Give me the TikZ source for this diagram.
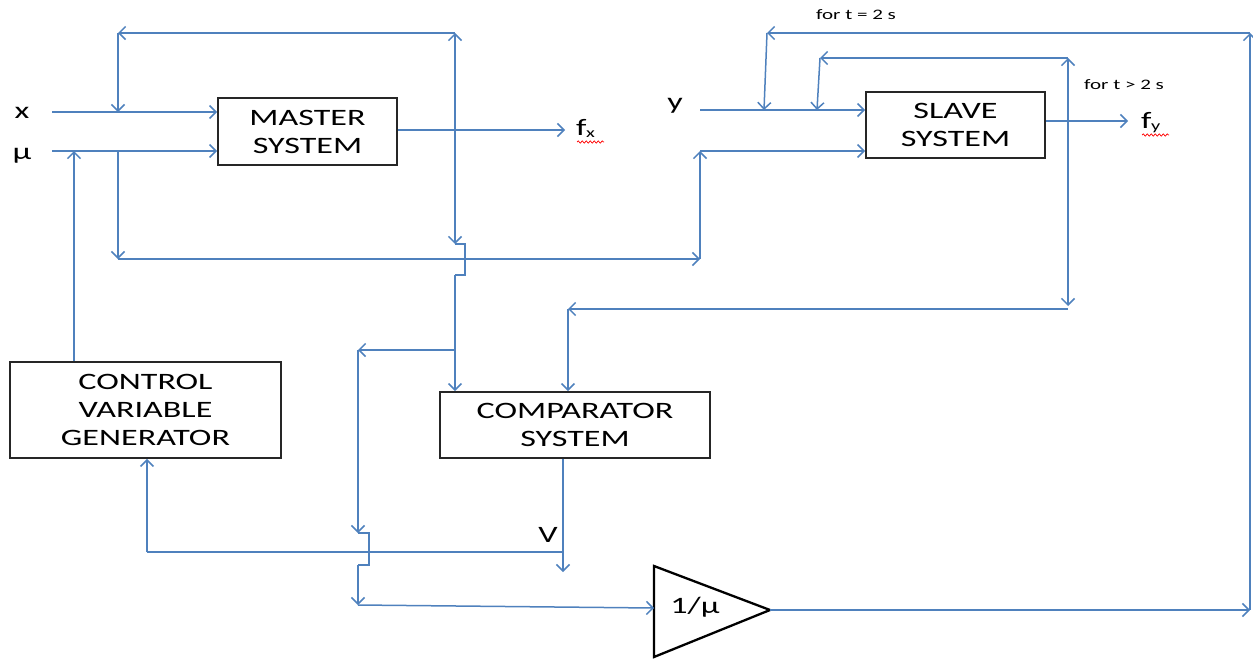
\documentclass[tikz,border=0pt]{standalone}
\usepackage{fontspec}
\newfontfamily\cf[FakeStretch=1.45]{Carlito}
\usetikzlibrary{arrows.meta,decorations.pathmorphing}
\definecolor{wireblue}{RGB}{79,129,189}
\newcommand{\bigfont}{\cf\fontsize{23.5}{28}\selectfont}
\newcommand{\smallfont}{\cf\fontsize{14.5}{16}\selectfont}
\begin{document}
\begin{tikzpicture}[x=1pt,y=-1pt,
  wire/.style={draw=wireblue,line width=1.5pt,-{Straight Barb[length=6.5pt,width=13pt,line width=1.5pt]}},
  plain/.style={draw=wireblue,line width=1.5pt},
  blk/.style={draw=black!85,line width=1.8pt,font=\bigfont,align=center,inner sep=0pt},
  lbl/.style={font=\bigfont,inner sep=0pt},
  small/.style={font=\smallfont,inner sep=0pt},
  squiggle/.style={draw=red,line width=0.7pt,decorate,decoration={snake,amplitude=1.1pt,segment length=4pt}}]
\useasboundingbox (0,0) rectangle (1253,659);

% blocks
\node[blk,minimum width=179pt,minimum height=67pt] (master) at (307.5,131.5) {MASTER\\SYSTEM};
\node[blk,minimum width=179pt,minimum height=66pt] (slave) at (955.5,125) {SLAVE\\SYSTEM};
\node[blk,minimum width=270pt,minimum height=66pt] (comp) at (575,425) {COMPARATOR\\SYSTEM};
\node[blk,minimum width=271pt,minimum height=96pt] (cvg) at (145.5,410) {CONTROL\\VARIABLE\\GENERATOR};

% gain triangle
\coordinate (tl) at (654,566);
\coordinate (tb) at (654,657);
\coordinate (tt) at (770,610);
\draw[black,line width=2.3pt,line join=miter] (tl) -- (tt) -- (tb) -- cycle;
\node[lbl] (gain) at (695,607) {1/μ};

% labels
\node[lbl] (xlab) at (22,113) {x};
\node[lbl] (mulab) at (22,156) {μ};
\node[lbl] (ylab) at (675,106) {y};
\node[lbl] (vlab) at (548,535) {V};
\node[lbl,anchor=base west] (fx) at (576,135) {f\kern-0.5pt\raisebox{-2.5pt}{\cf\fontsize{14}{14}\selectfont x}};
\node[lbl,anchor=base west] (fy) at (1141,128) {f\kern-0.5pt\raisebox{-2.5pt}{\cf\fontsize{14}{14}\selectfont y}};
\node[small] (t2) at (856,15) {for t = 2 s};
\node[small] (tg2) at (1124,85) {for t > 2 s};
\draw[squiggle] (577,142) -- (604,142);
\draw[squiggle] (1142,135) -- (1169,135);

% master inputs
\coordinate (xin) at (52,112);
\coordinate (muin) at (52,151);
\draw[wire] (xin) -- (xin -| master.west);
\draw[wire] (muin) -- (muin -| master.west);

% master output and branch
\coordinate (mx) at (455,130);
\coordinate (fxend) at (565,130);
\coordinate (mtop) at (455,33);
\coordinate (ltop) at (118,33);
\coordinate (xtap) at (118,112);
\draw[wire] (master.east |- mx) -- (fxend);
\draw[wire] (mx) -- (mtop);
\draw[wire] (mtop) -- (ltop);
\draw[wire] (ltop) -- (xtap);

% mu branch to slave
\coordinate (mutap) at (118,151);
\coordinate (lbot) at (118,259);
\coordinate (rbot) at (700,259);
\coordinate (smu) at (700,151);
\draw[wire] (mutap) -- (lbot);
\draw[wire] (lbot) -- (rbot);
\draw[wire] (rbot) -- (smu);
\draw[wire] (smu) -- (smu -| slave.west);

% control variable to mu
\coordinate (cvgtop) at (74,151);
\draw[wire] (cvg.north -| cvgtop) -- (cvgtop);

% master branch down to comparator (with hop)
\coordinate (j1) at (455,244);
\coordinate (j4) at (455,275);
\draw[wire] (mx) -- (j1);
\draw[plain] (j1) -- (465,244) -- (465,275) -- (j4);
\draw[wire] (j4) -- (j4 |- comp.north);

% branch to gain
\coordinate (b1) at (455,350);
\coordinate (b2) at (358,350);
\coordinate (b3) at (358,533);
\coordinate (b4) at (358,565);
\coordinate (b5) at (358,605);
\draw[wire] (b1) -- (b2);
\draw[wire] (b2) -- (b3);
\draw[plain] (b3) -- (369,533) -- (369,565) -- (b4);
\draw[wire] (b4) -- (b5);
\draw[wire] (b5) -- (654,608);

% slave input y
\coordinate (yin) at (700,110);
\draw[wire] (yin) -- (yin -| slave.west);

% slave output and branch
\coordinate (sx) at (1068,121);
\coordinate (fyend) at (1128,121);
\coordinate (stop) at (1068,58);
\coordinate (s2l) at (820,58);
\coordinate (s2d) at (817,110);
\coordinate (sdn) at (1068,306);
\coordinate (sh) at (1068,309);
\coordinate (ch) at (568,309);
\draw[wire] (slave.east |- sx) -- (fyend);
\draw[wire] (sx) -- (stop);
\draw[wire] (stop) -- (s2l);
\draw[wire] (s2l) -- (s2d);
\draw[wire] (sx) -- (sdn);
\draw[wire] (sh) -- (ch);
\draw[wire] (ch) -- (ch |- comp.north);

% gain output loop
\coordinate (gr) at (1250,610);
\coordinate (gtop) at (1250,33);
\coordinate (gl) at (767,33);
\coordinate (gd) at (764,110);
\draw[wire] (tt) -- (gr);
\draw[wire] (gr) -- (gtop);
\draw[wire] (gtop) -- (gl);
\draw[wire] (gl) -- (gd);

% comparator output V
\coordinate (vout) at (563,572);
\coordinate (vtap) at (563,552);
\coordinate (vl) at (147,552);
\draw[wire] (comp.south -| vout) -- (vout);
\draw[plain] (vtap) -- (vl);
\draw[wire] (vl) -- (cvg.south -| vl);
\end{tikzpicture}
\end{document}
